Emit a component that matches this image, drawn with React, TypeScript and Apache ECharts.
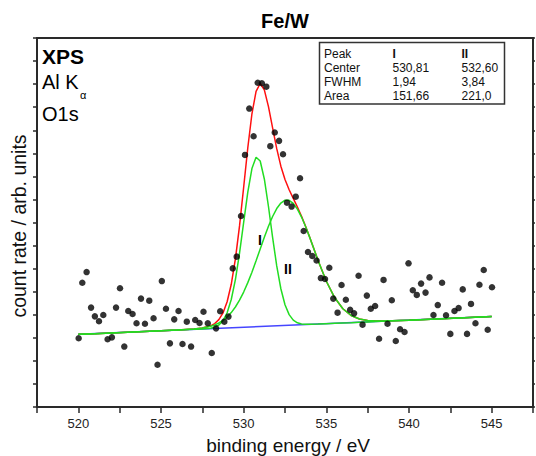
import React, { useEffect, useRef } from "react";
import * as echarts from "echarts";

const FONT = '"Liberation Sans", Arial, Helvetica, sans-serif';

// measured XPS points (binding energy / eV, count rate in tick units)
const measuredEnergy = [
  520.02, 520.24, 520.5, 520.77, 521.0, 521.25, 521.51, 521.77, 522.03, 522.28,
  522.52, 522.78, 523.02, 523.28, 523.52, 523.79, 524.03, 524.29, 524.55, 524.79,
  525.05, 525.3, 525.54, 525.8, 526.06, 526.3, 526.56, 526.82, 527.07, 527.33,
  527.57, 527.83, 528.07, 528.33, 528.58, 528.83, 529.08, 529.34, 529.58, 529.84,
  530.08, 530.34, 530.6, 530.85, 531.1, 531.37, 531.61, 531.88, 532.14, 532.38,
  532.62, 532.9, 533.15, 533.41, 533.63, 533.89, 534.15, 534.41, 534.67, 534.92,
  535.18, 535.42, 535.68, 535.92, 536.18, 536.44, 536.68, 536.95, 537.19, 537.45,
  537.69, 537.95, 538.19, 538.46, 538.7, 538.96, 539.2, 539.46, 539.73, 539.97,
  540.23, 540.47, 540.73, 541.0, 541.24, 541.48, 541.74, 542.0, 542.24, 542.5,
  542.75, 543.0, 543.25, 543.51, 543.75, 544.02, 544.26, 544.52, 544.76, 545.02,
];
const measuredCounts = [
  2.98, 5.39, 5.85, 4.31, 3.93, 3.72, 3.99, 2.94, 3.02, 4.31,
  5.15, 2.62, 4.16, 4.03, 3.63, 4.7, 3.61, 4.61, 3.85, 1.83,
  5.46, 4.26, 2.76, 3.8, 4.16, 2.73, 3.7, 2.62, 3.77, 3.64,
  4.13, 3.63, 2.34, 3.41, 4.15, 3.7, 3.92, 6.01, 6.52, 8.28,
  10.93, 12.94, 11.74, 14.06, 14.04, 13.89, 11.31, 11.9, 11.54, 10.96,
  8.86, 8.69, 9.12, 9.92, 7.63, 6.72, 6.55, 6.35, 5.59, 5.55,
  6.04, 4.7, 4.09, 5.29, 4.65, 4.21, 4.06, 5.69, 3.57, 4.83,
  4.26, 4.38, 2.96, 5.51, 3.61, 4.63, 2.86, 3.37, 3.25, 6.23,
  5.06, 4.86, 5.35, 4.96, 5.62, 3.99, 4.42, 5.39, 3.98, 3.17,
  4.16, 4.29, 5.1, 3.17, 4.47, 3.63, 5.3, 5.94, 3.35, 5.19,
];

// fit curves sampled along the energy axis
const fitEnergy = [
  520, 521, 522, 523, 524, 525, 526, 527, 527.5, 528,
  528.25, 528.5, 528.75, 529, 529.25, 529.5, 529.75, 530, 530.25, 530.5,
  530.75, 531, 531.25, 531.5, 531.75, 532, 532.25, 532.5, 532.75, 533,
  533.25, 533.5, 533.75, 534, 534.5, 535, 535.5, 536, 536.5, 537,
  537.5, 538, 539, 540, 541, 542, 543, 544, 545,
];
const fitBaseline = [
  3.15, 3.181, 3.212, 3.242, 3.273, 3.304, 3.335, 3.366, 3.381, 3.396,
  3.404, 3.412, 3.42, 3.427, 3.435, 3.443, 3.45, 3.458, 3.466, 3.473,
  3.481, 3.489, 3.497, 3.504, 3.512, 3.52, 3.527, 3.535, 3.543, 3.55,
  3.558, 3.566, 3.574, 3.581, 3.597, 3.612, 3.627, 3.643, 3.658, 3.674,
  3.689, 3.704, 3.735, 3.766, 3.797, 3.828, 3.858, 3.889, 3.92,
];
const fitPeakI = [
  0, 0, 0, 0, 0, 0, 0, 0, 0.002, 0.022,
  0.059, 0.145, 0.324, 0.66, 1.227, 2.082, 3.221, 4.546, 5.85, 6.867,
  7.35, 7.177, 6.39, 5.19, 3.844, 2.596, 1.6, 0.899, 0.461, 0.215,
  0.092, 0.036, 0.013, 0.004, 0, 0, 0, 0, 0, 0,
  0, 0, 0, 0, 0, 0, 0, 0, 0,
];
const fitPeakII = [
  0, 0, 0, 0, 0, 0, 0.002, 0.015, 0.041, 0.102,
  0.155, 0.231, 0.335, 0.476, 0.659, 0.893, 1.181, 1.526, 1.926, 2.374,
  2.858, 3.362, 3.862, 4.333, 4.749, 5.084, 5.316, 5.43, 5.417, 5.279,
  5.024, 4.671, 4.242, 3.763, 2.759, 1.842, 1.119, 0.619, 0.312, 0.143,
  0.06, 0.023, 0.002, 0, 0, 0, 0, 0, 0,
];
const baselineEnergy = [520, 545];
const baselineCounts = [3.15, 3.92];

// fit-result table
const tableHeader = ["Peak", "I", "II"];
const tableCenter = ["Center", "530,81", "532,60"];
const tableFwhm = ["FWHM", "1,94", "3,84"];
const tableArea = ["Area", "151,66", "221,0"];

const AXIS_COLOR = "#2a2a2a";

export default function App() {
  const ref = useRef<HTMLDivElement>(null);

  useEffect(() => {
    if (!ref.current) return;
    const chart = echarts.init(ref.current, undefined, { renderer: "svg" });

    const measured = measuredEnergy.map((e, i) => [e, measuredCounts[i]]);
    const sumCurve = fitEnergy.map((e, i) => [e, fitBaseline[i] + fitPeakI[i] + fitPeakII[i]]);
    const curveI = fitEnergy.map((e, i) => [e, fitBaseline[i] + fitPeakI[i]]);
    const curveII = fitEnergy.map((e, i) => [e, fitBaseline[i] + fitPeakII[i]]);
    const baseLine = baselineEnergy.map((e, i) => [e, baselineCounts[i]]);

    const tableRows = [tableHeader, tableCenter, tableFwhm, tableArea];
    const rowY = [53.5, 67.5, 81.5, 95.5];
    const colX = [324, 392.5, 461.5];
    const tableTexts: any[] = [];
    tableRows.forEach((row, r) => {
      row.forEach((cell, c) => {
        tableTexts.push({
          type: "text",
          x: colX[c],
          y: rowY[r],
          z: 101,
          style: {
            text: cell,
            fontSize: 12,
            fontFamily: FONT,
            fontWeight: r === 0 && c > 0 ? "bold" : "normal",
            fill: "#111",
            align: "left",
            verticalAlign: "middle",
          },
        });
      });
    });

    const lineBase = {
      type: "line",
      showSymbol: false,
      symbol: "none",
      silent: true,
    };

    const option: any = {
      animation: false,
      backgroundColor: "#ffffff",
      grid: { left: 37, right: 2, top: 38, bottom: 49, containLabel: false },
      xAxis: [
        {
          type: "value",
          position: "bottom",
          min: 517.5,
          max: 547.5,
          interval: 2.5,
          axisLine: { show: true, onZero: false, lineStyle: { color: AXIS_COLOR, width: 2 } },
          axisTick: { show: true, inside: false, length: 6, lineStyle: { color: AXIS_COLOR, width: 1.5 } },
          axisLabel: {
            margin: 10,
            fontSize: 13,
            fontFamily: FONT,
            color: "#222",
            formatter: (v: number) => (Math.abs(v % 5) < 1e-6 ? String(v) : ""),
          },
          splitLine: { show: false },
        },
        {
          type: "value",
          position: "top",
          min: 517.5,
          max: 547.5,
          interval: 2.5,
          axisLine: { show: true, onZero: false, lineStyle: { color: AXIS_COLOR, width: 2 } },
          axisTick: { show: false },
          axisLabel: { show: false },
          splitLine: { show: false },
        },
      ],
      yAxis: [
        {
          type: "value",
          position: "left",
          min: 0,
          max: 16,
          interval: 1,
          axisLine: { show: true, onZero: false, lineStyle: { color: AXIS_COLOR, width: 2 } },
          axisTick: { show: true, inside: false, length: 4, lineStyle: { color: AXIS_COLOR, width: 1.5 } },
          axisLabel: { show: false },
          splitLine: { show: false },
        },
        {
          type: "value",
          position: "right",
          min: 0,
          max: 16,
          interval: 1,
          axisLine: { show: true, onZero: false, lineStyle: { color: AXIS_COLOR, width: 2 } },
          axisTick: { show: true, inside: false, length: 2, lineStyle: { color: AXIS_COLOR, width: 1.5 } },
          axisLabel: { show: false },
          splitLine: { show: false },
        },
      ],
      series: [
        { ...lineBase, name: "baseline", data: baseLine, z: 2, lineStyle: { color: "#4646ff", width: 1.5 } },
        { ...lineBase, name: "sum", data: sumCurve, z: 3, lineStyle: { color: "#ff1010", width: 1.5 } },
        { ...lineBase, name: "peak I", data: curveI, z: 4, lineStyle: { color: "#22dd22", width: 1.5 } },
        { ...lineBase, name: "peak II", data: curveII, z: 4, lineStyle: { color: "#22dd22", width: 1.5 } },
        {
          type: "scatter",
          name: "measured",
          data: measured,
          symbol: "circle",
          symbolSize: 6.5,
          z: 10,
          silent: true,
          itemStyle: { color: "#000" },
        },
      ],
      graphic: [
        {
          type: "text",
          x: 285,
          y: 21,
          style: { text: "Fe/W", fontSize: 20, fontWeight: "bold", fontFamily: FONT, fill: "#000", align: "center", verticalAlign: "middle" },
        },
        {
          type: "text",
          x: 288,
          y: 445,
          style: { text: "binding energy / eV", fontSize: 19, fontFamily: FONT, fill: "#111", align: "center", verticalAlign: "middle" },
        },
        {
          type: "text",
          x: 19,
          y: 226,
          rotation: Math.PI / 2,
          style: { text: "count rate / arb. units", fontSize: 19.5, fontFamily: FONT, fill: "#111", align: "center", verticalAlign: "middle" },
        },
        {
          type: "text",
          x: 42,
          y: 56,
          z: 100,
          style: { text: "XPS", fontSize: 21, fontWeight: "bold", fontFamily: FONT, fill: "#000", align: "left", verticalAlign: "middle" },
        },
        {
          type: "text",
          x: 42,
          y: 82,
          z: 100,
          style: { text: "Al K", fontSize: 20, fontFamily: FONT, fill: "#000", align: "left", verticalAlign: "middle" },
        },
        {
          type: "text",
          x: 80,
          y: 95,
          z: 100,
          style: { text: "α", fontSize: 11, fontFamily: FONT, fill: "#000", align: "left", verticalAlign: "middle" },
        },
        {
          type: "text",
          x: 42,
          y: 114,
          z: 100,
          style: { text: "O1s", fontSize: 20, fontFamily: FONT, fill: "#000", align: "left", verticalAlign: "middle" },
        },
        {
          type: "rect",
          z: 100,
          shape: { x: 319.5, y: 42.5, width: 185, height: 61.5 },
          style: { fill: "#fff", stroke: "#333", lineWidth: 1.5 },
        },
        ...tableTexts,
        {
          type: "text",
          x: 260,
          y: 240,
          z: 100,
          style: { text: "I", fontSize: 14, fontWeight: "bold", fontFamily: FONT, fill: "#000", align: "center", verticalAlign: "middle" },
        },
        {
          type: "text",
          x: 288,
          y: 269,
          z: 100,
          style: { text: "II", fontSize: 14, fontWeight: "bold", fontFamily: FONT, fill: "#000", align: "center", verticalAlign: "middle" },
        },
      ],
    };

    chart.setOption(option);
    return () => {
      chart.dispose();
    };
  }, []);

  return (
    <div
      ref={ref}
      style={{ position: "absolute", left: 0, top: 0, width: 536, height: 456 }}
    />
  );
}
